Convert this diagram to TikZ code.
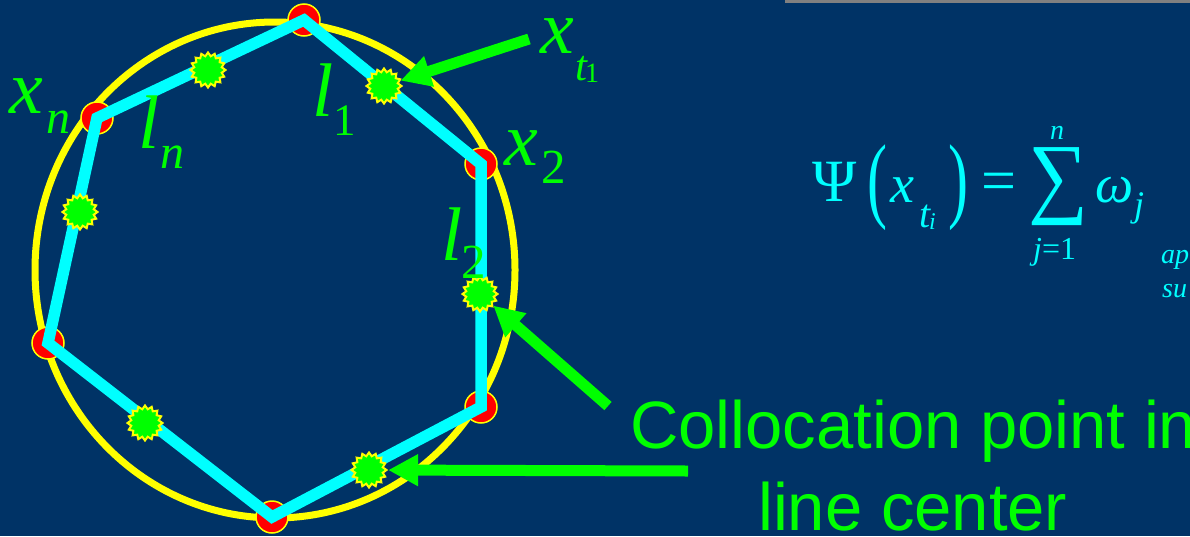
\documentclass[tikz,border=0pt]{standalone}
\usepackage{graphicx}
\usepackage{fontspec}
\setmainfont{Liberation Serif}
\newfontfamily\arialf{Liberation Sans}
\usetikzlibrary{shapes.geometric,arrows.meta}
\definecolor{bgblue}{RGB}{0,51,102}
\definecolor{labgreen}{RGB}{0,255,0}
\definecolor{polycyan}{RGB}{0,255,255}
\definecolor{ringyellow}{RGB}{255,255,0}
\definecolor{dotred}{RGB}{255,0,0}
\definecolor{fmcyan}{RGB}{0,255,255}
\definecolor{topgrey}{RGB}{128,128,128}
\tikzset{
  lab/.style={text=labgreen, inner sep=0pt, anchor=base west, font=\fontsize{#1}{#1}\selectfont\itshape},
  fmi/.style={text=fmcyan, inner sep=0pt, anchor=base west, font=\fontsize{#1}{#1}\selectfont\itshape},
  fmu/.style={text=fmcyan, inner sep=0pt, anchor=base west, font=\fontsize{#1}{#1}\selectfont},
  fmbox/.style={text=fmcyan, inner sep=0pt, anchor=north west},
  coll/.style={text=labgreen, inner sep=0pt, anchor=base west, font=\arialf\fontsize{67}{67}\selectfont},
  vdot/.style={circle, fill=dotred, draw=ringyellow, line width=1.5pt, minimum size=32pt, inner sep=0pt},
  cpt/.style={star, star points=16, star point ratio=1.25, fill=labgreen, draw=ringyellow, line width=2pt, minimum size=35pt, inner sep=0pt},
  ring/.style={draw=ringyellow, line width=7pt},
  poly/.style={draw=polycyan, line width=11.5pt},
  arr/.style={draw=labgreen, line width=11pt, -{Triangle[length=30pt,width=30pt]}},
}
\begin{document}
\begin{tikzpicture}[x=1pt,y=-1pt]
\useasboundingbox (0,0) rectangle (1190,536);
\fill[bgblue] (0,0) rectangle (1190,536);
\clip (0,0) rectangle (1190,536);
% top grey rule
\draw[topgrey, line width=3pt] (785,1) -- (1190,1);
% circle
\draw[ring] (275,270) ellipse [x radius=240, y radius=248];
% vertices
\coordinate (v1) at (304,20);
\coordinate (v2) at (481,164);
\coordinate (v3) at (481,407);
\coordinate (v4) at (272,517);
\coordinate (v5) at (48,343);
\coordinate (v6) at (97,118);
\foreach \v in {v1,v2,v3,v4,v5,v6} \node[vdot] (d\v) at (\v) {};
\draw[poly] (v1) -- (v2) -- (v3) -- (v4) -- (v5) -- (v6) -- cycle;
% collocation points
\node[cpt] (s1) at (208,70) {};
\node[cpt] (s2) at (384,86) {};
\node[cpt] (s3) at (480,294) {};
\node[cpt] (s4) at (369,470) {};
\node[cpt] (s5) at (145,423) {};
\node[cpt] (s6) at (80,212) {};
% arrows
\coordinate (a1) at (529,39);
\coordinate (a2) at (608,406);
\coordinate (a3) at (688,471);
\draw[arr] (a1) -- (s2);
\draw[arr] (a2) -- (s3);
\draw[arr] (a3) -- (s4);
% labels
\node[lab=76] (xn) at (9,113) {x};
\node[lab=48] (xnsub) at (46,133) {n};
\node[lab=76] (ln) at (138,148) {l};
\node[lab=48] (lnsub) at (160,168) {n};
\node[lab=76] (l1) at (312,116) {l};
\node[lab=45] (l1sub) at (333,135) {\upshape 1};
\node[lab=76] (xt) at (540,53) {x};
\node[lab=43] (xtsub) at (575,80) {t};
\node[lab=28] (xtsubsub) at (585,82) {\upshape 1};
\node[lab=76] (x2) at (504,165) {x};
\node[lab=49] (x2sub) at (541,183) {\upshape 2};
\node[lab=76] (l2) at (441,260) {l};
\node[lab=49] (l2sub) at (461,278) {\upshape 2};
% formula
\node[fmu=60] (psi) at (812,201) {Ψ};
\node[fmbox] (lp) at (867,144) {\resizebox*{20pt}{86pt}{(}};
\node[fmi=54] (fx) at (890,202) {x};
\node[fmi=40] (ft) at (919,227) {t};
\node[fmi=24] (fi) at (929,229) {i};
\node[fmbox] (rp) at (948,144) {\resizebox*{20pt}{86pt}{)}};
\node[fmu=62] (eq) at (981,201) {=};
\node[fmbox] (sum) at (1028,147) {\resizebox*{60pt}{78pt}{∑}};
\node[fmi=28] (sn) at (1050,139) {n};
\node[fmi=32] (sj) at (1033,259) {j\upshape =1};
\node[fmi=54] (om) at (1095,202) {ω};
\node[fmi=36] (omj) at (1134,216) {j};
\node[fmi=28] (ap) at (1161,263) {ap};
\node[fmi=28] (su) at (1162,297) {su};
% callout text
\node[coll] (c1) at (630,448) {Collocation point in};
\node[coll] (c2) at (758,530) {line center};
\end{tikzpicture}
\end{document}
